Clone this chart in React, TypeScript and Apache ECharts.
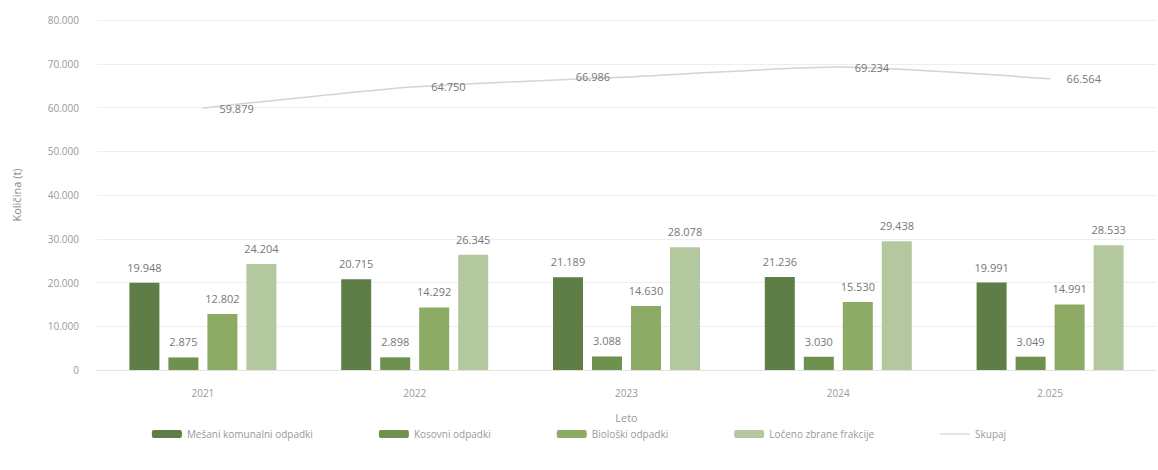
import React, { useEffect, useRef } from "react";
import * as echarts from "echarts";

const years = ["2021", "2022", "2023", "2024", "2.025"];
const mesani = [19948, 20715, 21189, 21236, 19991];
const kosovni = [2875, 2898, 3088, 3030, 3049];
const bioloski = [12802, 14292, 14630, 15530, 14991];
const loceno = [24204, 26345, 28078, 29438, 28533];
const skupaj = [59879, 64750, 66986, 69234, 66564];

const seriesNames = [
  "Mešani komunalni odpadki",
  "Kosovni odpadki",
  "Biološki odpadki",
  "Ločeno zbrane frakcije",
  "Skupaj",
];
const colors = ["#5f7d47", "#6f9150", "#8eab66", "#b4c8a0", "#d4d4d4"];
const lineLabelPos = ["right", "right", "left", "right", "right"];

const fmt = (v: number) =>
  String(Math.round(v)).replace(/\B(?=(\d{3})+(?!\d))/g, ".");

export default function App() {
  const ref = useRef<HTMLDivElement>(null);
  useEffect(() => {
    document.body.style.margin = "0";
    if (!ref.current) return;
    const chart = echarts.init(ref.current, undefined, { renderer: "svg" });
    const font = "Open Sans, Liberation Sans, sans-serif";
    const barLabel = {
      show: true,
      position: "top" as const,
      distance: 10,
      color: "#777",
      fontSize: 11,
      fontFamily: font,
      formatter: (p: any) => fmt(p.value),
    };
    const barSeries = [mesani, kosovni, bioloski, loceno].map((d, i) => ({
      name: seriesNames[i],
      type: "bar",
      data: d,
      barWidth: 30,
      barGap: "30%",
      itemStyle: { color: colors[i] },
      label: barLabel,
    }));
    const lineLabel = {
      show: true,
      distance: 16,
      color: "#777",
      fontSize: 11,
      fontFamily: font,
      formatter: (p: any) => fmt(p.value),
    };
    chart.setOption({
      animation: false,
      textStyle: { fontFamily: font },
      grid: { left: 97, right: 2, top: 20, bottom: 100 },
      legend: {
        top: 424,
        left: "center",
        itemWidth: 30,
        itemHeight: 8,
        itemGap: 66,
        textStyle: { color: "#999", fontSize: 10, fontFamily: font },
        data: [
          ...seriesNames.slice(0, 4),
          {
            name: seriesNames[4],
            icon: "path://M0,0 M30,8 M0,3.4 L30,3.4 L30,4.6 L0,4.6 Z",
          },
        ],
      },
      xAxis: {
        type: "category",
        data: years,
        name: "Leto",
        nameLocation: "middle",
        nameGap: 42,
        nameTextStyle: { color: "#999", fontSize: 11 },
        axisLine: { lineStyle: { color: "#e3e3e3" } },
        axisTick: { show: false },
        axisLabel: { color: "#999", fontSize: 10, margin: 18 },
      },
      yAxis: {
        type: "value",
        min: 0,
        max: 80000,
        interval: 10000,
        name: "Količina (t)",
        nameLocation: "middle",
        nameGap: 75,
        nameTextStyle: { color: "#888", fontSize: 11 },
        axisLabel: {
          color: "#999",
          fontSize: 10,
          margin: 18,
          formatter: (v: number) => fmt(v),
        },
        splitLine: { lineStyle: { color: "#eeeeee" } },
      },
      series: [
        ...barSeries,
        {
          name: seriesNames[4],
          type: "line",
          data: skupaj.map((v, i) => ({
            value: v,
            label: { ...lineLabel, position: lineLabelPos[i] },
          })),
          smooth: 0.2,
          symbol: "circle",
          symbolSize: 1,
          showSymbol: true,
          itemStyle: { color: colors[4] },
          lineStyle: { color: colors[4], width: 1.5 },
          label: lineLabel,
        },
      ],
    });
    return () => chart.dispose();
  }, []);
  return <div ref={ref} style={{ width: 1158, height: 470 }} />;
}
